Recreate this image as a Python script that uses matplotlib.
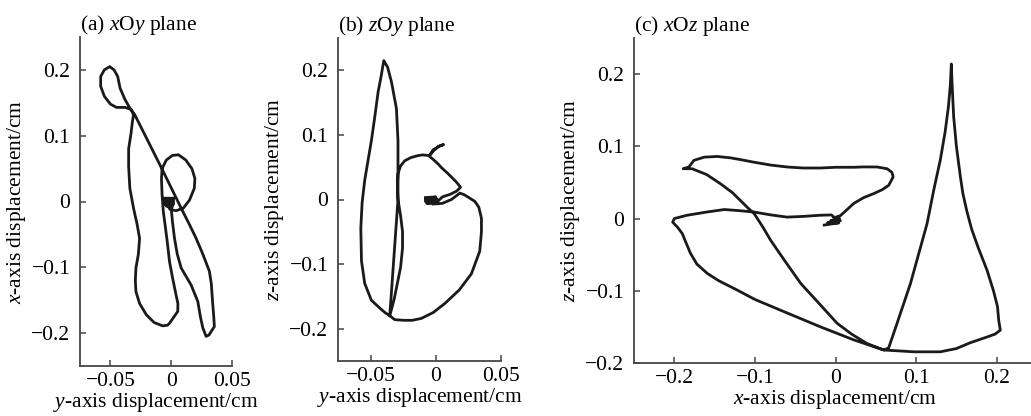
import numpy as np
import matplotlib
matplotlib.use("Agg")
import matplotlib.pyplot as plt

plt.rcParams['font.family'] = 'Liberation Serif'
plt.rcParams['mathtext.fontset'] = 'custom'
plt.rcParams['mathtext.rm'] = 'Liberation Serif'
plt.rcParams['mathtext.it'] = 'Liberation Serif:italic'
plt.rcParams['font.size'] = 15.5

# (a) xOy plane : y displacement (horizontal), x displacement (vertical)
a_y = [-0.006, 0.002, -0.006, 0.002, -0.006, 0.002, -0.006, 0.002, -0.004, 0.001, 0.0,
       0.001, 0.0027, 0.005, 0.0082, 0.0164, 0.0219, 0.024, 0.026, 0.0287, 0.031,
       0.0355, 0.035, 0.034, 0.033, 0.0314, 0.026, 0.0205, 0.015, 0.0095,
       -0.008, -0.030,
       -0.034, -0.038, -0.042, -0.044, -0.047, -0.0506, -0.055, -0.058, -0.058,
       -0.055, -0.05, -0.045, -0.038, -0.033, -0.031,
       -0.032, -0.033, -0.035, -0.035, -0.034, -0.031, -0.028, -0.026, -0.027,
       -0.029, -0.0295, -0.029, -0.026, -0.0205, -0.014, -0.007, -0.003, -0.0014,
       0.002, 0.0054, 0.0055, 0.004, 0.001, -0.0014, -0.003, -0.0047, -0.0065,
       -0.0075, -0.008, -0.0075, -0.004, 0.001, 0.006, 0.012, 0.017, 0.0195,
       0.019, 0.015, 0.01, 0.004, -0.001, -0.003]
a_x = [0.005, 0.005, 0.002, 0.002, -0.001, -0.001, -0.004, -0.004, -0.007, -0.008, -0.01,
       -0.03, -0.056, -0.08, -0.101, -0.127, -0.152, -0.175, -0.192, -0.205, -0.203,
       -0.190, -0.175, -0.152, -0.125, -0.106, -0.08, -0.056, -0.035, -0.015,
       0.051, 0.132,
       0.142, 0.155, 0.172, 0.19, 0.2, 0.205, 0.2, 0.19, 0.175,
       0.16, 0.148, 0.143, 0.143, 0.14, 0.132,
       0.12, 0.104, 0.08, 0.053, 0.02, -0.01, -0.035, -0.056, -0.08,
       -0.101, -0.12, -0.137, -0.155, -0.172, -0.184, -0.189, -0.188, -0.185,
       -0.176, -0.167, -0.155, -0.142, -0.115, -0.091, -0.065, -0.040, -0.015,
       0.01, 0.035, 0.05, 0.063, 0.070, 0.071, 0.063, 0.05, 0.035,
       0.02, 0.002, -0.01, -0.014, -0.012, -0.005]

# (b) zOy plane : y displacement (horizontal), z displacement (vertical)
b_y = [-0.008, 0.0, -0.008, 0.001, -0.008, 0.001, -0.007, 0.0,
       0.005, 0.011, 0.016, 0.019,
       0.0158, 0.0094, 0.004, 0.0018, -0.002, -0.005,
       -0.002, 0.002, 0.006, 0.003, -0.002, -0.005,
       -0.01, -0.0136, -0.019, -0.0238, -0.027, -0.029, -0.0295, -0.029,
       -0.027, -0.0255, -0.0255, -0.027, -0.0295, -0.032, -0.0353,
       -0.029, -0.029, -0.0302, -0.034, -0.037, -0.0399,
       -0.042, -0.0442, -0.047, -0.0494, -0.052, -0.0545, -0.0565, -0.0575, -0.057,
       -0.0545, -0.0494, -0.043, -0.039, -0.0353, -0.0315, -0.025, -0.018, -0.011,
       -0.002, 0.0069, 0.018, 0.0273, 0.0337, 0.035, 0.035, 0.033, 0.030, 0.0222,
       0.0185, 0.012, 0.005, -0.002]
b_z = [0.003, 0.004, 0.0, 0.001, -0.003, -0.002, -0.006, -0.006,
       0.004, 0.008, 0.013, 0.019,
       0.027, 0.040, 0.05, 0.055, 0.062, 0.067,
       0.075, 0.082, 0.085, 0.083, 0.077, 0.068,
       0.069, 0.068, 0.065, 0.060, 0.052, 0.040, 0.02, 0.0,
       -0.025, -0.05, -0.075, -0.105, -0.13, -0.155, -0.180,
       0.0, 0.091, 0.141, 0.182, 0.205, 0.215,
       0.19, 0.167, 0.125, 0.091, 0.06, 0.030, -0.005, -0.044, -0.095,
       -0.130, -0.156, -0.168, -0.175, -0.180, -0.186, -0.187, -0.187, -0.184,
       -0.175, -0.161, -0.14, -0.115, -0.080, -0.05, -0.029, -0.012, -0.003, 0.007,
       0.01, 0.0, -0.006, -0.007]

# (c) xOz plane : x displacement (horizontal), z displacement (vertical)
c_x = [-0.014, 0.004, -0.010, 0.006, -0.006, 0.005, -0.002, 0.006,
       0.012, 0.0227, 0.035, 0.0475, 0.058, 0.066, 0.0715, 0.070, 0.064, 0.0517,
       0.035, 0.0227, 0.0, -0.0186, -0.04, -0.060, -0.08, -0.101, -0.115, -0.130,
       -0.147, -0.163, -0.1756, -0.182, -0.189,
       -0.178, -0.16, -0.1425, -0.128, -0.118, -0.108, -0.101, -0.090, -0.0805,
       -0.062, -0.043, -0.02, 0.002, 0.02, 0.039, 0.055, 0.060,
       0.066, 0.0764, 0.093, 0.1136, 0.122, 0.130, 0.136, 0.140, 0.1425, 0.1437,
       0.1445, 0.1466, 0.150, 0.155, 0.158, 0.163, 0.169, 0.177, 0.188, 0.196,
       0.201, 0.2025,
       0.2045, 0.198, 0.188, 0.167, 0.150, 0.130, 0.097, 0.075, 0.060,
       0.0227, -0.0186, -0.068, -0.10, -0.122, -0.145, -0.159, -0.172, -0.180,
       -0.186, -0.190, -0.196, -0.202, -0.200, -0.184, -0.16, -0.138, -0.12,
       -0.101, -0.080, -0.060, -0.04, -0.0186, -0.005, 0.0]
c_z = [-0.009, -0.006, -0.006, -0.003, -0.003, 0.0, 0.001, 0.004,
       0.01, 0.021, 0.029, 0.0346, 0.040, 0.046, 0.0575, 0.064, 0.069, 0.0714,
       0.0715, 0.071, 0.071, 0.070, 0.070, 0.0714, 0.074, 0.078, 0.081, 0.084,
       0.086, 0.085, 0.0806, 0.0714, 0.069,
       0.069, 0.061, 0.048, 0.036, 0.025, 0.014, 0.007, -0.012, -0.030,
       -0.060, -0.090, -0.118, -0.145, -0.160, -0.173, -0.180, -0.182,
       -0.179, -0.145, -0.090, -0.007, 0.04, 0.081, 0.12, 0.154, 0.185, 0.214,
       0.19, 0.141, 0.10, 0.0575, 0.035, 0.01, -0.015, -0.04, -0.0715, -0.10,
       -0.122, -0.141,
       -0.1545, -0.160, -0.164, -0.172, -0.180, -0.1845, -0.1845, -0.183, -0.182,
       -0.168, -0.150, -0.127, -0.112, -0.099, -0.086, -0.076, -0.063, -0.048,
       -0.032, -0.021, -0.012, -0.005, 0.0, 0.0046, 0.009, 0.0125, 0.011,
       0.009, 0.005, 0.002, 0.003, 0.0046, 0.005, 0.0]

ticks_small = [-0.05, 0, 0.05]
labels_small = ['\u22120.05', '0', '0.05']
ticks_big = [-0.2, -0.1, 0, 0.1, 0.2]
labels_big = ['\u22120.2', '\u22120.1', '0', '0.1', '0.2']

fig = plt.figure(figsize=(10.31, 4.16), dpi=100)
W, H = 1031.0, 416.0

def make_ax(l, r, t, b):
    return fig.add_axes([l / W, 1 - b / H, (r - l) / W, (b - t) / H])

ax1 = make_ax(80, 232, 37, 366)
ax2 = make_ax(338, 501, 38, 361)
ax3 = make_ax(634, 1037, 38, 363)

panels = [
    (ax1, a_y, a_x, (-0.075, 0.05), (-0.25, 0.25), ticks_small, labels_small,
     '(a) $x$O$y$ plane', '$y$-axis displacement/cm', '$x$-axis displacement/cm'),
    (ax2, b_y, b_z, (-0.075, 0.05), (-0.25, 0.25), ticks_small, labels_small,
     '(b) $z$O$y$ plane', '$y$-axis displacement/cm', '$z$-axis displacement/cm'),
    (ax3, c_x, c_z, (-0.25, 0.25), (-0.2, 0.25), ticks_big, labels_big,
     '(c) $x$O$z$ plane', '$x$-axis displacement/cm', '$z$-axis displacement/cm'),
]

for ax, hx, vy, xl, yl, xt, xtl, title, xlab, ylab in panels:
    ax.plot(hx, vy, color='#1a1a1a', lw=2.0, solid_joinstyle='round')
    ax.set_xlim(xl)
    ax.set_ylim(yl)
    ax.set_xticks(xt)
    ax.set_xticklabels(xtl)
    ax.set_yticks(ticks_big)
    ax.set_yticklabels(labels_big)
    for s in ['top', 'right']:
        ax.spines[s].set_visible(False)
    for s in ['left', 'bottom']:
        ax.spines[s].set_color('#454545')
        ax.spines[s].set_linewidth(1.3)
    ax.tick_params(direction='in', length=4, width=1.1, color='#454545')
    ax.tick_params(axis='y', pad=7)
    ax.tick_params(axis='x', pad=4)
    ax.set_title(title, loc='left', pad=4, fontsize=15.5)
    ax.set_xlabel(xlab, labelpad=0)
    ax.set_ylabel(ylab, labelpad=2)

fig.savefig('out.png', dpi=100)
